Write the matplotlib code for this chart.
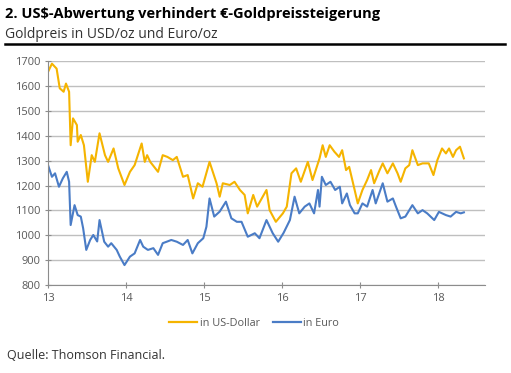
import matplotlib
matplotlib.use("Agg")
import matplotlib.pyplot as plt
from matplotlib.lines import Line2D

# Goldpreis in USD/oz (Jahr als 13 = 2013 usw.)
usd_x = [13.0, 13.05, 13.11, 13.15, 13.2, 13.23, 13.27, 13.29, 13.32, 13.37,
         13.38, 13.42, 13.46, 13.51, 13.56, 13.6, 13.66, 13.73, 13.77, 13.84,
         13.9, 13.98, 14.05, 14.11, 14.2, 14.24, 14.27, 14.31, 14.41, 14.47,
         14.53, 14.6, 14.65, 14.73, 14.79, 14.86, 14.92, 14.98, 15.07, 15.16,
         15.2, 15.24, 15.33, 15.39, 15.46, 15.52, 15.56, 15.63, 15.68, 15.8,
         15.84, 15.92, 16.01, 16.06, 16.12, 16.18, 16.24, 16.33, 16.39, 16.48,
         16.52, 16.56, 16.61, 16.67, 16.73, 16.77, 16.82, 16.86, 16.93, 16.97,
         17.03, 17.09, 17.14, 17.18, 17.25, 17.29, 17.35, 17.42, 17.48, 17.52,
         17.58, 17.63, 17.67, 17.74, 17.8, 17.88, 17.94, 17.99, 18.05, 18.1,
         18.14, 18.19, 18.23, 18.28, 18.33]
usd = [1657, 1690, 1670, 1591, 1577, 1610, 1577, 1362, 1470, 1443,
       1376, 1403, 1362, 1215, 1322, 1295, 1410, 1322, 1295, 1349,
       1269, 1202, 1255, 1282, 1369, 1295, 1322, 1295, 1255, 1322,
       1315, 1302, 1315, 1235, 1242, 1148, 1209, 1195, 1295, 1209,
       1155, 1209, 1202, 1215, 1182, 1162, 1088, 1162, 1115, 1182,
       1101, 1054, 1088, 1115, 1249, 1269, 1215, 1295, 1222, 1309,
       1362, 1315, 1362, 1336, 1315, 1342, 1262, 1275, 1182, 1128,
       1182, 1222, 1262, 1209, 1262, 1289, 1249, 1289, 1249, 1215,
       1269, 1282, 1342, 1282, 1289, 1289, 1242, 1302, 1349, 1329,
       1349, 1315, 1342, 1356, 1309]

# Goldpreis in Euro/oz
eur_x = [13.0, 13.05, 13.09, 13.14, 13.19, 13.24, 13.27, 13.29, 13.34, 13.38,
         13.42, 13.45, 13.49, 13.54, 13.58, 13.63, 13.66, 13.72, 13.77, 13.81,
         13.88, 13.92, 13.98, 14.05, 14.11, 14.18, 14.22, 14.28, 14.35, 14.41,
         14.47, 14.53, 14.58, 14.65, 14.73, 14.79, 14.85, 14.92, 14.99, 15.03,
         15.07, 15.13, 15.2, 15.28, 15.35, 15.42, 15.48, 15.56, 15.65, 15.71,
         15.8, 15.88, 15.95, 16.02, 16.1, 16.16, 16.22, 16.29, 16.35, 16.41,
         16.46, 16.48, 16.51, 16.56, 16.62, 16.68, 16.74, 16.77, 16.83, 16.87,
         16.93, 16.97, 17.03, 17.09, 17.16, 17.2, 17.29, 17.35, 17.42, 17.46,
         17.52, 17.58, 17.67, 17.74, 17.8, 17.86, 17.95, 18.01, 18.1, 18.16,
         18.23, 18.29, 18.33]
eur = [1282, 1235, 1249, 1195, 1229, 1255, 1215, 1041, 1121, 1081,
       1075, 1028, 941, 981, 1001, 975, 1061, 974, 954, 968,
       941, 914, 880, 914, 927, 981, 954, 941, 948, 921,
       968, 975, 981, 974, 961, 981, 927, 968, 988, 1034,
       1148, 1075, 1095, 1135, 1068, 1054, 1054, 994, 1008, 988,
       1061, 1008, 974, 1010, 1061, 1155, 1088, 1115, 1128, 1088,
       1182, 1115, 1235, 1202, 1215, 1182, 1195, 1128, 1168, 1121,
       1088, 1088, 1128, 1115, 1182, 1128, 1209, 1135, 1148, 1115,
       1068, 1075, 1121, 1088, 1101, 1088, 1061, 1094, 1081, 1075,
       1094, 1088, 1092]

x_ticks = [13, 14, 15, 16, 17, 18]
y_ticks = [800, 900, 1000, 1100, 1200, 1300, 1400, 1500, 1600, 1700]

gold = "#F5B400"
blue = "#4A7CC6"
grey_txt = "#595959"
font = "Open Sans"

fig = plt.figure(figsize=(5.11, 3.73), dpi=100)
ax = fig.add_axes([0.094, 0.236, 0.855, 0.600])

ax.plot(usd_x, usd, color=gold, lw=1.5, label="in US-Dollar")
ax.plot(eur_x, eur, color=blue, lw=1.5, label="in Euro")

ax.set_xlim(13, 18.6)
ax.set_ylim(800, 1700)
ax.set_xticks(x_ticks)
ax.set_xticklabels([str(t) for t in x_ticks])
ax.set_yticks(y_ticks)
ax.yaxis.grid(True, color="#BFBFBF", lw=1)
ax.set_axisbelow(True)
for s in ["top", "right"]:
    ax.spines[s].set_visible(False)
for s in ["left", "bottom"]:
    ax.spines[s].set_color("#8C8C8C")
ax.tick_params(axis="both", colors="#8C8C8C", labelcolor=grey_txt,
               labelsize=8, length=4, direction="inout", width=0.8)
for lab in ax.get_xticklabels() + ax.get_yticklabels():
    lab.set_fontfamily(font)

# Titel und Untertitel
fig.text(0.01, 0.962, "2. US$-Abwertung verhindert €-Goldpreissteigerung",
         fontsize=10.5, fontweight="bold", family=font, va="center")
fig.text(0.01, 0.908, "Goldpreis in USD/oz und Euro/oz",
         fontsize=10, family=font, color="#333333", va="center")
fig.add_artist(Line2D([0.01, 0.988], [0.882, 0.882], color="black", lw=1.8,
                      transform=fig.transFigure))

handles = [Line2D([], [], color=gold, lw=1.6), Line2D([], [], color=blue, lw=1.6)]
fig.legend(handles, ["in US-Dollar", "in Euro"], loc="center",
           bbox_to_anchor=(0.497, 0.134), ncol=2, frameon=False,
           handlelength=2.6, handletextpad=0.2, columnspacing=1.2,
           prop={"family": font, "size": 7.8}, labelcolor=grey_txt)

fig.text(0.014, 0.048, "Quelle: Thomson Financial.", fontsize=9,
         family=font, color="#333333", va="center")

fig.savefig("out.png", dpi=100)
